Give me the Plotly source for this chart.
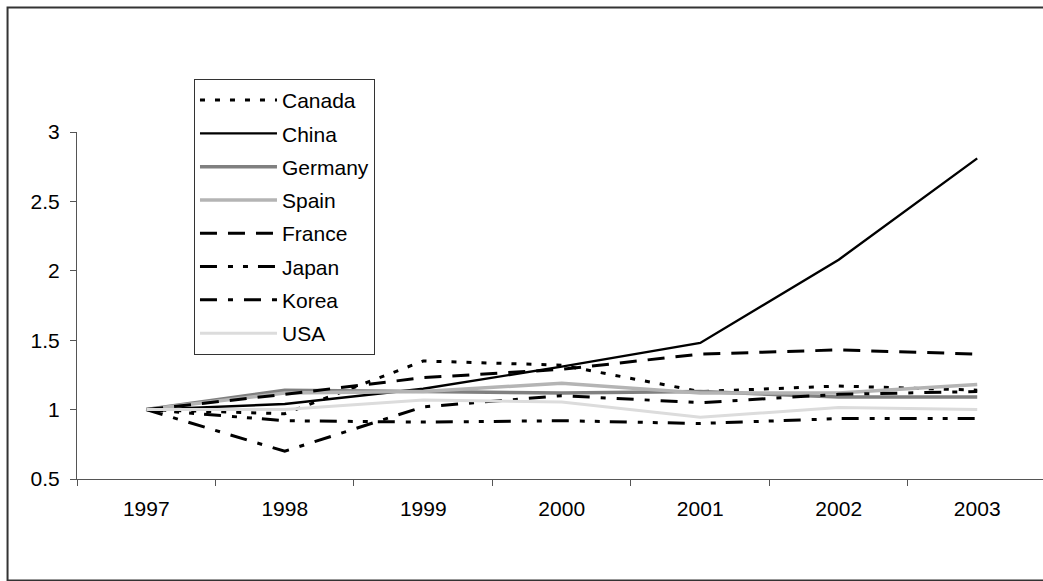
import plotly.graph_objects as go

# Index of values relative to 1997 (1997 = 1)
years = ["1997", "1998", "1999", "2000", "2001", "2002", "2003"]

canada = [1.0, 0.97, 1.35, 1.32, 1.13, 1.17, 1.14]
china = [1.0, 1.04, 1.15, 1.31, 1.48, 2.08, 2.81]
germany = [1.0, 1.14, 1.13, 1.12, 1.13, 1.09, 1.09]
spain = [1.0, 1.12, 1.13, 1.19, 1.12, 1.12, 1.18]
france = [1.0, 1.11, 1.23, 1.29, 1.40, 1.43, 1.40]
japan = [1.0, 0.92, 0.91, 0.92, 0.90, 0.935, 0.935]
korea = [1.0, 0.70, 1.02, 1.10, 1.05, 1.11, 1.13]
usa = [1.0, 1.0, 1.07, 1.055, 0.945, 1.015, 1.0]

series = [
    ("Canada", canada, "#000000", 3, "5px,10px"),
    ("China", china, "#000000", 2.4, "solid"),
    ("Germany", germany, "#808080", 3.5, "solid"),
    ("Spain", spain, "#b4b4b4", 3.5, "solid"),
    ("France", france, "#000000", 3, "17px,11px"),
    ("Japan", japan, "#000000", 3, "17px,11px,5px,10px,5px,10px"),
    ("Korea", korea, "#000000", 3, "17px,11px,5px,11px"),
    ("USA", usa, "#dcdcdc", 3, "solid"),
]

FONT = "Arial, Liberation Sans, sans-serif"

fig = go.Figure()
for name, vals, color, width, dash in series:
    fig.add_trace(go.Scatter(
        x=years, y=vals, name=name, mode="lines",
        legendgroup=name,
        line=dict(color=color, width=width, dash=dash),
    ))

fig.update_layout(
    width=1043, height=581,
    margin=dict(l=77, r=0, t=132, b=102),
    paper_bgcolor="white", plot_bgcolor="white",
    font=dict(family=FONT, size=21, color="black"),
    showlegend=True,
    legend=dict(
        x=0.1211, y=1.153, xanchor="left", yanchor="top",
        bgcolor="white", bordercolor="#333333", borderwidth=1,
        font=dict(family=FONT, size=21, color="black"),
        traceorder="grouped", tracegroupgap=3,
        itemwidth=77,
    ),
    xaxis=dict(
        type="category", range=[-0.5, 6.475],
        showline=True, linecolor="#555555", linewidth=1,
        ticks="outside", tickson="boundaries", ticklen=6,
        tickcolor="#555555", showgrid=False, zeroline=False,
        ticklabelstandoff=11,
        tickfont=dict(family=FONT, size=21, color="black"),
    ),
    yaxis=dict(
        range=[0.5, 3], dtick=0.5, tick0=0.5,
        showline=True, linecolor="#555555", linewidth=1,
        ticks="outside", ticklen=6, tickcolor="#555555",
        showgrid=False, zeroline=False,
        ticklabelstandoff=6,
        tickfont=dict(family=FONT, size=21, color="black"),
    ),
    shapes=[
        dict(type="rect", xref="paper", yref="paper",
             x0=-0.0719, x1=1.2, y0=-0.2924, y1=1.3588,
             line=dict(color="#333333", width=2), layer="below"),
    ],
)

fig.write_html("out.html")
